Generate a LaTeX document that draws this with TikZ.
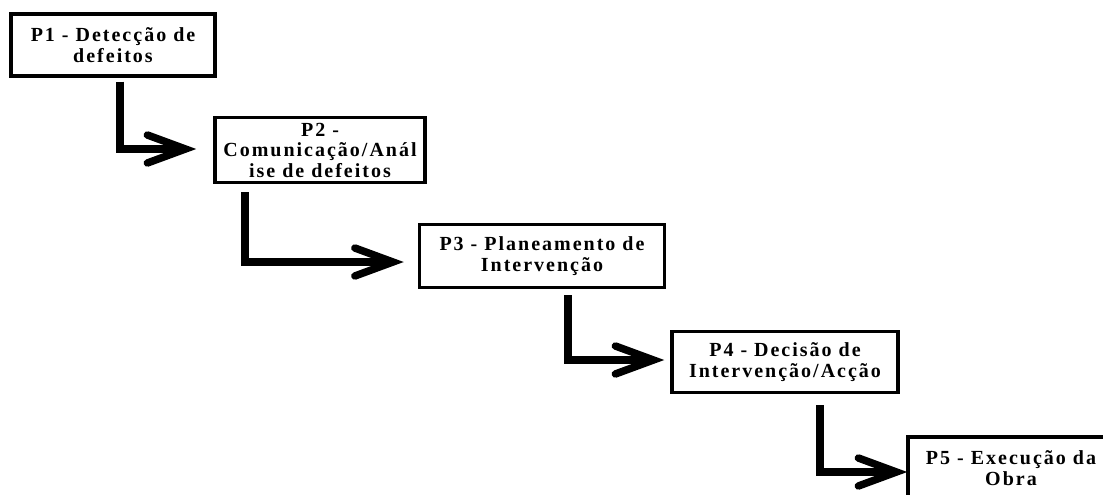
\documentclass[tikz,border=0pt]{standalone}
\usepackage{fontspec}
\newfontfamily\boxfont{Liberation Serif}[LetterSpace=10]
\usetikzlibrary{calc}
\tikzset{
  stepbox/.style={draw=black, line width=3.2pt, fill=white, align=center,
    inner sep=0pt, font=\boxfont\bfseries\fontsize{20}{20.5}\selectfont},
  flow/.style={line width=8.5pt, line join=miter, line cap=butt},
  head/.style={line width=7.5pt, line join=miter, line cap=round}
}
\begin{document}
\begin{tikzpicture}[x=1pt,y=-1pt]
\useasboundingbox (0,0) rectangle (1103,495);
\clip (0,0) rectangle (1103,495);
\node[stepbox, minimum width=204pt, minimum height=62pt] (P1) at (113,45) {P1 - Detecção de\\defeitos};
\node[stepbox, minimum width=210pt, minimum height=65pt] (P2) at (320,150) {P2 -\\Comunicação/Anál\\ise de defeitos};
\node[stepbox, minimum width=245pt, minimum height=63pt] (P3) at (542,256) {P3 - Planeamento de\\Intervenção};
\node[stepbox, minimum width=226pt, minimum height=61pt] (P4) at (785,362) {P4 - Decisão de\\Intervenção/Acção};
\node[stepbox, minimum width=206pt, minimum height=62pt] (P5) at (1011,468) {P5 - Execução da\\Obra};
% connectors
\coordinate (s1) at ($(P1.south)+(7,4)$);
\coordinate (t1) at ($(P2.west)+(-28,-1)$);
\coordinate (s2) at ($(P2.south)+(-75,8)$);
\coordinate (t2) at ($(P3.west)+(-25,6)$);
\coordinate (s3) at ($(P3.south)+(26,6)$);
\coordinate (t3) at ($(P4.west)+(-17,-2)$);
\coordinate (s4) at ($(P4.south)+(35,11)$);
\coordinate (t4) at ($(P5.west)+(-10,4)$);
\foreach \i in {1,2,3,4}{
  \draw[flow] (s\i) |- ($(t\i)+(-10,0)$);
  \draw[head] ($(t\i)+(-38,-14)$) -- (t\i) -- ($(t\i)+(-38,14)$);
}
\end{tikzpicture}
\end{document}
